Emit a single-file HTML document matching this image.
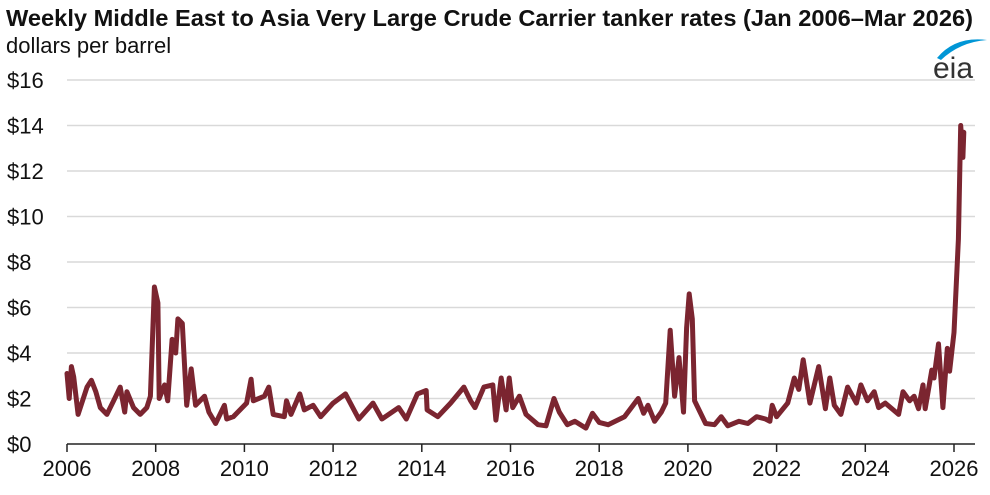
<!DOCTYPE html>
<html><head><meta charset="utf-8"><style>
body{margin:0;background:#fff;font-family:"Liberation Sans",Arial,sans-serif}
svg{display:block}
</style></head><body>
<svg id="chart" width="990" height="495" viewBox="0 0 990 495">
<text x="6" y="26" font-size="23.2" font-weight="bold" fill="#111" textLength="967" lengthAdjust="spacingAndGlyphs">Weekly Middle East to Asia Very Large Crude Carrier tanker rates (Jan 2006–Mar 2026)</text>
<text x="6" y="53" font-size="22" fill="#111">dollars per barrel</text>
<g>
<path d="M937 58 Q955 36 987 40 Q960 42 941 60 Z" fill="#0096d6"/>
<text x="933" y="78" font-size="30" fill="#333">eia</text>
</g>
<g id="grid"></g><g id="axes"></g><g id="series"></g>
</svg>
<script>
const yTicks=[0,2,4,6,8,10,12,14,16];
const xTicks=[2006,2008,2010,2012,2014,2016,2018,2020,2022,2024,2026];
const dates=[2006.0,2006.05,2006.1,2006.15,2006.25,2006.45,2006.55,2006.65,2006.75,2006.9,2007.05,2007.2,2007.3,2007.35,2007.5,2007.65,2007.8,2007.88,2007.97,2008.05,2008.08,2008.2,2008.27,2008.37,2008.45,2008.5,2008.6,2008.7,2008.8,2008.9,2009.1,2009.2,2009.35,2009.55,2009.6,2009.75,2009.9,2010.05,2010.15,2010.2,2010.45,2010.55,2010.65,2010.9,2010.95,2011.05,2011.25,2011.35,2011.55,2011.72,2012.0,2012.28,2012.58,2012.9,2013.1,2013.48,2013.65,2013.9,2014.1,2014.12,2014.36,2014.65,2014.95,2015.1,2015.2,2015.4,2015.6,2015.67,2015.79,2015.9,2015.97,2016.05,2016.2,2016.35,2016.62,2016.8,2016.98,2017.1,2017.28,2017.45,2017.7,2017.85,2018.0,2018.2,2018.57,2018.88,2019.0,2019.1,2019.25,2019.4,2019.5,2019.6,2019.7,2019.75,2019.8,2019.9,2019.97,2020.03,2020.1,2020.15,2020.25,2020.4,2020.6,2020.75,2020.9,2021.15,2021.35,2021.55,2021.75,2021.85,2021.9,2022.0,2022.25,2022.4,2022.5,2022.6,2022.75,2022.95,2023.1,2023.2,2023.3,2023.45,2023.6,2023.8,2023.9,2024.05,2024.2,2024.3,2024.45,2024.75,2024.85,2025.0,2025.1,2025.2,2025.3,2025.35,2025.5,2025.55,2025.65,2025.75,2025.85,2025.9,2026.0,2026.1,2026.15,2026.2,2026.22];
const rates=[3.1,2.0,3.4,2.95,1.3,2.5,2.8,2.3,1.6,1.3,1.9,2.5,1.4,2.3,1.6,1.3,1.6,2.1,6.9,6.2,2.0,2.6,1.9,4.6,4.0,5.5,5.3,1.7,3.3,1.7,2.1,1.4,0.9,1.7,1.1,1.2,1.5,1.8,2.85,1.9,2.1,2.5,1.3,1.2,1.9,1.3,2.2,1.5,1.7,1.2,1.8,2.2,1.1,1.8,1.1,1.6,1.1,2.2,2.35,1.5,1.2,1.8,2.5,1.9,1.6,2.5,2.6,1.05,2.9,1.5,2.9,1.6,2.1,1.3,0.85,0.8,2.0,1.4,0.85,1.0,0.7,1.35,0.95,0.85,1.2,2.0,1.35,1.7,1.0,1.4,1.8,5.0,2.1,2.9,3.8,1.4,5.1,6.6,5.5,1.9,1.5,0.9,0.85,1.2,0.8,1.0,0.9,1.2,1.1,1.0,1.7,1.2,1.8,2.9,2.4,3.7,1.8,3.4,1.55,2.9,1.7,1.3,2.5,1.8,2.6,1.9,2.3,1.6,1.8,1.3,2.3,1.9,2.1,1.55,2.6,1.55,3.25,2.9,4.4,1.6,4.2,3.2,4.9,9.0,14.0,12.6,13.7];
const NS='http://www.w3.org/2000/svg';
const X0=67,X1=954,Y0=444,Y1=80;
function xs(t){return X0+(t-2006)/(2026-2006)*(X1-X0);}
function ys(v){return Y0-v/16*(Y0-Y1);}
function mk(tag,attrs,parent){const e=document.createElementNS(NS,tag);for(const k in attrs)e.setAttribute(k,attrs[k]);parent.appendChild(e);return e;}
const grid=document.getElementById('grid'),axes=document.getElementById('axes'),ser=document.getElementById('series');
yTicks.forEach(v=>{
  if(v>0){const l=mk('line',{x1:X0,x2:975,y1:ys(v),y2:ys(v),stroke:'#d9d9d9','stroke-width':1.5},grid);
  
  }
  const t=mk('text',{x:7,y:ys(v)+8,'font-size':22,fill:'#111'},axes);
  t.textContent='$'+v;
  
  
});
const ax=mk('line',{x1:X0,x2:975,y1:Y0,y2:Y0,stroke:'#222','stroke-width':1.5},axes);


xTicks.forEach(y=>{
  const tk=mk('line',{x1:xs(y),x2:xs(y),y1:Y0,y2:Y0+8,stroke:'#222','stroke-width':1.5},axes);
  
  
  const t=mk('text',{x:xs(y),y:Y0+32,'font-size':22,fill:'#111','text-anchor':'middle'},axes);
  t.textContent=y;
  
  
});
const d=dates.map((t,i)=>(i?'L':'M')+xs(t).toFixed(1)+' '+ys(rates[i]).toFixed(1)).join(' ');
const p=mk('path',{d:d,fill:'none',stroke:'#7b2530','stroke-width':5,'stroke-linejoin':'round','stroke-linecap':'round'},ser);


</script>
</body></html>
